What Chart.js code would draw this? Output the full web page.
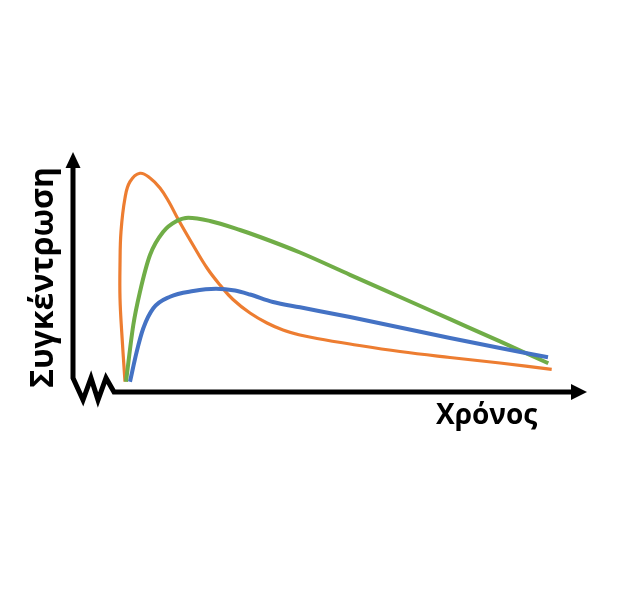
<!DOCTYPE html>
<html>
<head>
<meta charset="utf-8">
<script src="https://cdn.jsdelivr.net/npm/chart.js@4.4.1/dist/chart.umd.min.js"></script>
<style>
  html, body { margin: 0; padding: 0; background: #fff; }
  #wrap { position: relative; width: 623px; height: 600px; }
</style>
</head>
<body>
<div id="wrap"><canvas id="curves"></canvas></div>
<script>
// time (x) and concentration (y), arbitrary units
const orangeTime = [1.2, 0.87, 0.7, 0.7, 0.8, 1.2, 1.7, 2.7, 3.7, 4.7, 5.6, 6.5, 8.0, 9.4, 10.7, 12.0, 13.7, 15.4, 17.0, 18.7, 20.4, 23.7, 28.7, 33.7, 38.7, 43.87];
const orangeConc = [1.13, 6.13, 9.5, 12.8, 16.13, 19.5, 21.13, 21.97, 21.5, 20.5, 19.1, 17.4, 14.8, 12.5, 10.8, 9.35, 8.0, 7.0, 6.3, 5.8, 5.45, 4.9, 4.15, 3.55, 3.0, 2.37];

const greenTime = [1.3, 2.03, 2.7, 3.7, 5.03, 6.37, 7.53, 9.7, 12.7, 14.7, 18.7, 23.7, 28.7, 33.7, 38.7, 43.53];
const greenConc = [1.13, 6.8, 10.13, 13.8, 16.13, 17.2, 17.53, 17.2, 16.3, 15.6, 14.05, 11.82, 9.6, 7.38, 5.16, 2.97];

const blueTime = [1.7, 2.37, 3.03, 4.03, 5.7, 8.03, 10.3, 12.2, 13.7, 16.0, 18.7, 23.7, 28.7, 33.7, 38.7, 43.5];
const blueConc = [1.13, 4.13, 6.47, 8.47, 9.63, 10.2, 10.43, 10.25, 9.85, 9.1, 8.57, 7.6, 6.55, 5.5, 4.5, 3.57];

const xTitle = "Χρόνος";
const yTitle = "Συγκέντρωση";

const toPoints = (xs, ys) => xs.map((x, i) => ({ x: x, y: ys[i] }));

// hand drawn style axes: arrows + break mark on the left
const arrowAxes = {
  id: 'arrowAxes',
  afterDraw(chart) {
    const ctx = chart.ctx;
    ctx.save();
    ctx.strokeStyle = '#000';
    ctx.fillStyle = '#000';
    ctx.lineWidth = 5;
    ctx.lineJoin = 'miter';

    // y axis
    ctx.beginPath();
    ctx.moveTo(73, 168);
    ctx.lineTo(73, 378);
    // break zigzag
    ctx.lineTo(83, 400);
    ctx.lineTo(91, 378);
    ctx.lineTo(98, 400);
    ctx.lineTo(106, 378);
    ctx.lineTo(114, 392);
    // x axis
    ctx.lineTo(573, 392);
    ctx.stroke();

    // arrow heads
    ctx.beginPath();
    ctx.moveTo(73, 152);
    ctx.lineTo(80.5, 168);
    ctx.lineTo(65.5, 168);
    ctx.closePath();
    ctx.fill();

    ctx.beginPath();
    ctx.moveTo(587, 392);
    ctx.lineTo(571, 384);
    ctx.lineTo(571, 400);
    ctx.closePath();
    ctx.fill();

    // titles
    ctx.textBaseline = 'alphabetic';
    ctx.textAlign = 'left';
    ctx.font = 'bold 28px "Open Sans"';
    ctx.fillText(xTitle, 436, 424);

    ctx.translate(53, 388);
    ctx.rotate(-Math.PI / 2);
    ctx.font = 'bold 32px "Open Sans"';
    ctx.fillText(yTitle, 0, 0);
    ctx.restore();
  }
};

new Chart(document.getElementById("curves"), {
  type: 'scatter',
  data: {
    datasets: [
      {
        label: "A",
        data: toPoints(blueTime, blueConc),
        borderColor: "#4472C4",
        borderWidth: 4,
        showLine: true,
        cubicInterpolationMode: 'monotone',
        pointRadius: 0
      },
      {
        label: "B",
        data: toPoints(greenTime, greenConc),
        borderColor: "#70AD47",
        borderWidth: 4,
        showLine: true,
        cubicInterpolationMode: 'monotone',
        pointRadius: 0
      },
      {
        label: "C",
        data: toPoints(orangeTime, orangeConc),
        borderColor: "#ED7D31",
        borderWidth: 3.2,
        showLine: true,
        tension: 0.4,
        pointRadius: 0
      }
    ]
  },
  options: {
    responsive: true,
    maintainAspectRatio: false,
    animation: false,
    layout: {
      padding: { left: 113, right: 50, top: 160, bottom: 207 }
    },
    plugins: {
      legend: { display: false },
      tooltip: { enabled: false }
    },
    scales: {
      x: { type: 'linear', min: 0, max: 46, display: false },
      y: { min: 0, max: 23.3, display: false }
    }
  },
  plugins: [arrowAxes]
});
</script>
</body>
</html>
